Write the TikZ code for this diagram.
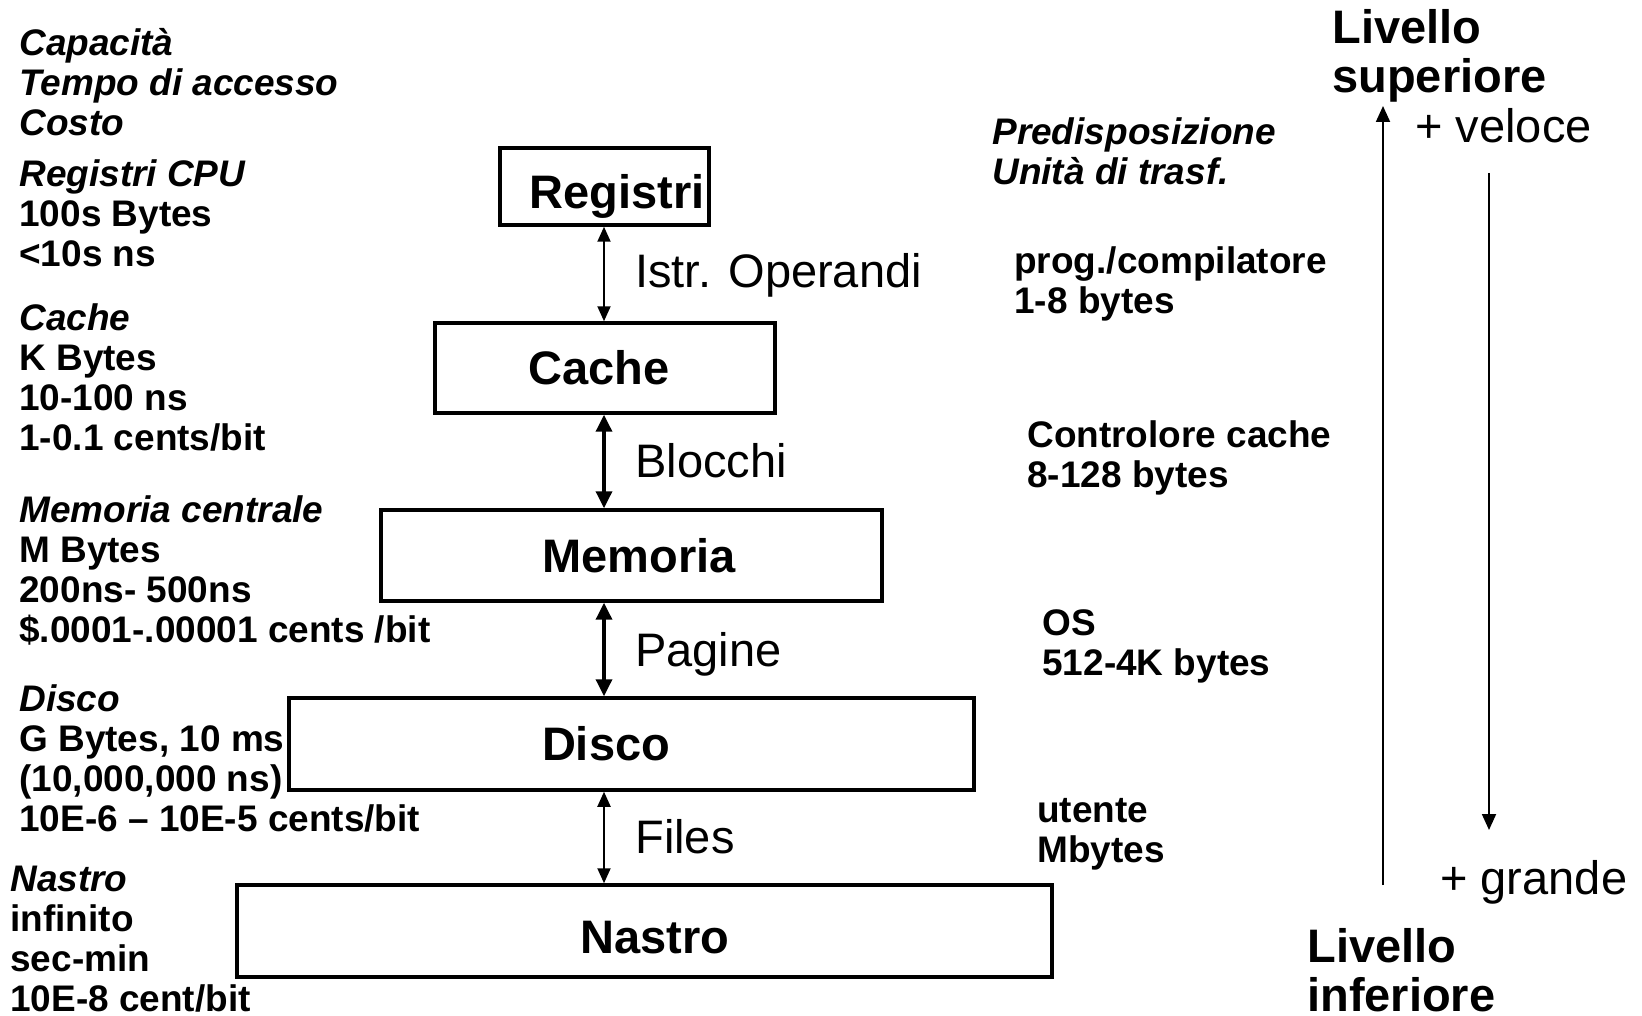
\documentclass[tikz,border=0pt]{standalone}
\usepackage{fontspec}
\setmainfont{Liberation Sans}
\usetikzlibrary{arrows.meta}

\tikzset{
  tier/.style={draw, line width=2pt, inner sep=0pt, text height=19.2pt, text depth=0pt,
    font=\bfseries\fontsize{26.75}{28}\selectfont},
  infotext/.style={anchor=north west, align=left, inner sep=0pt,
    font=\bfseries\fontsize{21.05}{22.76}\selectfont},
  sidetitle/.style={anchor=north west, align=left, inner sep=0pt,
    font=\bfseries\fontsize{26.75}{27.9}\selectfont},
  linklabel/.style={anchor=base west, inner sep=0pt, font=\fontsize{26.75}{28}\selectfont},
  thin link/.style={line width=1.1pt,
    {Triangle[width=0.26cm,length=0.3cm]}-{Triangle[width=0.26cm,length=0.3cm]}},
  thick link/.style={line width=2pt,
    {Triangle[width=0.32cm,length=0.34cm]}-{Triangle[width=0.32cm,length=0.34cm]}},
  side arrow/.style={line width=1.1pt, -{Triangle[width=0.28cm,length=0.32cm]}}
}

\begin{document}
\begin{tikzpicture}[x=0.02cm, y=-0.02cm]
\useasboundingbox (0,0) rectangle (1642,1016);

\node[tier, minimum width=4.18cm, minimum height=1.54cm, text height=24.9pt] (registri) at (604.5,186.5) {\hspace*{0.5cm}Registri};
\node[tier, minimum width=6.8cm, minimum height=1.8cm] (cache) at (605,368) {Cache\hspace*{0.24cm}};
\node[tier, minimum width=10.02cm, minimum height=1.82cm] (memoria) at (631.5,555.5) {\hspace*{0.3cm}Memoria};
\node[tier, minimum width=13.7cm, minimum height=1.84cm] (disco) at (631.5,744) {Disco\hspace*{1.02cm}};
\node[tier, minimum width=16.3cm, minimum height=1.84cm, text height=26pt] (nastro) at (644.5,931) {\hspace*{0.42cm}Nastro};

\coordinate (axis) at (604,0);
\draw[thin link] (axis |- registri.south) -- (axis |- cache.north);
\draw[thick link] (axis |- cache.south) -- (axis |- memoria.north);
\draw[thick link] (axis |- memoria.south) -- (axis |- disco.north);
\draw[thin link] (axis |- disco.south) -- (axis |- nastro.north);

\node[linklabel] (istr) at (635,288) {Istr. Operandi};
\node[linklabel] (blocchi) at (635,478) {Blocchi};
\node[linklabel] (pagine) at (635,666) {Pagine};
\node[linklabel] (files) at (635,853) {Files};

\node[infotext] (header) at (19,28) {\textit{Capacità}\\\textit{Tempo di accesso}\\\textit{Costo}};
\node[infotext] (regtxt) at (19,159) {\textit{Registri CPU}\\100s Bytes\\<10s ns};
\node[infotext] (cachetxt) at (19,303) {\textit{Cache}\\K Bytes\\10-100 ns\\1-0.1 cents/bit};
\node[infotext] (memtxt) at (19,495) {\textit{Memoria centrale}\\M Bytes\\200ns- 500ns\\\$.0001-.00001 cents /bit};
\node[infotext] (discotxt) at (19,684) {\textit{Disco}\\G Bytes, 10 ms\\(10,000,000 ns)\\10E-6 – 10E-5 cents/bit};
\node[infotext] (nastrotxt) at (10,866) {\textit{Nastro}\\infinito\\sec-min\\10E-8 cent/bit};

\node[infotext] (predisp) at (992,117) {\textit{Predisposizione}\\\textit{Unità di trasf.}};
\node[infotext] (prog) at (1014,246) {prog./compilatore\\1-8 bytes};
\node[infotext] (ctrl) at (1027,420) {Controlore cache\\8-128 bytes};
\node[infotext] (os) at (1042,609) {OS\\512-4K bytes};
\node[infotext] (utente) at (1037,798) {utente\\Mbytes};

\node[sidetitle] (superiore) at (1332,9) {Livello\\superiore};
\node[sidetitle] (inferiore) at (1307,928) {Livello\\inferiore};
\node[linklabel] (veloce) at (1415,143) {+ veloce};
\node[linklabel] (grande) at (1440,894) {+ grande};

\coordinate (upfoot) at (1383,885);
\coordinate (uptip) at (1383,106);
\coordinate (downtop) at (1489,173);
\coordinate (downtip) at (1489,830);
\draw[side arrow] (upfoot) -- (uptip);
\draw[side arrow] (downtop) -- (downtip);
\end{tikzpicture}
\end{document}
